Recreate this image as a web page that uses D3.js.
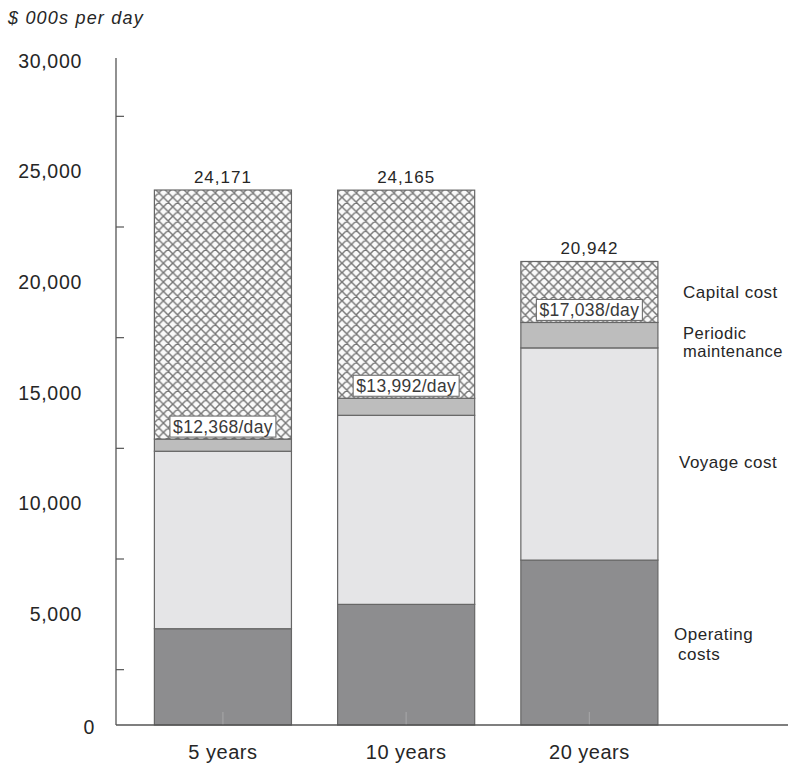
<!DOCTYPE html>
<html><head><meta charset="utf-8">
<script src="https://cdn.jsdelivr.net/npm/d3@7"></script>
<style>
html,body{margin:0;padding:0;background:#fff;}
svg{display:block;font-family:"Liberation Sans",Arial,Helvetica,sans-serif;}
</style></head>
<body><svg id="c" width="788" height="769"></svg>
<script>
const categories = ["5 years", "10 years", "20 years"];
const operating  = [4350, 5450, 7450];
const voyage     = [8018, 8542, 9588];
const periodic   = [550, 770, 1150];
const capital    = [11253, 9403, 2754];
const totalLabels = ["24,171", "24,165", "20,942"];
const dayLabels   = ["$12,368/day", "$13,992/day", "$17,038/day"];
const yTickValues = [0, 5000, 10000, 15000, 20000, 25000, 30000];
const yMinorTicks = [2500, 7500, 12500, 17500, 22500, 27500];
const seriesKeys  = ["operating", "voyage", "periodic", "capital"];
const legendLines = [["Operating", "costs"], ["Voyage cost"], ["Periodic", "maintenance"], ["Capital cost"]];
const yAxisTitle = "$ 000s per day";

const svg = d3.select("#c");
const defs = svg.append("defs");
const P = 9.4;
const pat = defs.append("pattern").attr("id","hatch").attr("patternUnits","userSpaceOnUse")
  .attr("width",P).attr("height",P).attr("x",154).attr("y",0);
pat.append("rect").attr("width",P).attr("height",P).attr("fill","#fafafa");
pat.append("path").attr("d",`M0,0L${P},${P}M0,${P}L${P},0M-1,1L1,-1M${P-1},${P+1}L${P+1},${P-1}M-1,${P-1}L1,${P+1}M${P-1},-1L${P+1},1`)
  .attr("stroke","#767676").attr("stroke-width",1.45);

const fills = {operating:"#8d8d8f", voyage:"#e5e5e7", periodic:"#bdbdbd", capital:"url(#hatch)"};

const x = d3.scaleBand().domain(categories).range([131.3, 681]).paddingInner(0.252).paddingOuter(0.126);
const y = d3.scaleLinear().domain([0, 30000]).range([725, 61]);

const rows = categories.map((c,i)=>({cat:c, operating:operating[i], voyage:voyage[i], periodic:periodic[i], capital:capital[i]}));
const stack = d3.stack().keys(seriesKeys)(rows);

// bars
const g = svg.append("g");
stack.forEach(layer=>{
  g.selectAll(null).data(layer).join("rect")
    .attr("x", d=>x(d.data.cat))
    .attr("y", d=>y(d[1]))
    .attr("width", x.bandwidth())
    .attr("height", d=>y(d[0])-y(d[1]))
    .attr("fill", fills[layer.key])
    .attr("stroke","#666").attr("stroke-width",1.2);
});

// x center ticks (inside bars)
svg.append("g").selectAll("line").data(categories).join("line")
  .attr("x1", d=>x(d)+x.bandwidth()/2).attr("x2", d=>x(d)+x.bandwidth()/2)
  .attr("y1", y(0)).attr("y2", y(0)-13)
  .attr("stroke","#a3a3a5").attr("stroke-width",1.2);

const txt = "#262626";
// day label boxes
const boxH = 21, boxW = 106;
categories.forEach((c,i)=>{
  const cx = x(c)+x.bandwidth()/2;
  const bottom = y(operating[i]+voyage[i]+periodic[i]) - 2;
  svg.append("rect").attr("x", cx-boxW/2).attr("y", bottom-boxH).attr("width", boxW).attr("height", boxH)
    .attr("fill","#fff").attr("stroke","#6f6f6f").attr("stroke-width",1.1);
  svg.append("text").attr("x", cx).attr("y", bottom-4.5).attr("text-anchor","middle")
    .attr("font-size",17.5).attr("letter-spacing",0.3).attr("fill","#3a3a3a").text(dayLabels[i]);
  svg.append("text").attr("x", cx).attr("y", y(operating[i]+voyage[i]+periodic[i]+capital[i]) - 7)
    .attr("text-anchor","middle").attr("font-size",17).attr("letter-spacing",1).attr("fill",txt)
    .text(totalLabels[i]);
});

// axes
const axisColor = "#555";
svg.append("line").attr("x1",116).attr("x2",116).attr("y1",58).attr("y2",y(0)).attr("stroke",axisColor).attr("stroke-width",1.3);
svg.append("line").attr("x1",116).attr("x2",788).attr("y1",y(0)).attr("y2",y(0)).attr("stroke",axisColor).attr("stroke-width",1.3);
svg.append("g").selectAll("line").data(yMinorTicks).join("line")
  .attr("x1",116).attr("x2",124).attr("y1",d=>y(d)).attr("y2",d=>y(d)).attr("stroke",axisColor).attr("stroke-width",1.2);
svg.append("g").selectAll("text").data(yTickValues).join("text")
  .attr("x", d=> d===0 ? 95 : 82).attr("y", d=>y(d)+(d===0?9:6.5)).attr("text-anchor","end")
  .attr("font-size",19.5).attr("letter-spacing",0.7).attr("fill",txt)
  .text(d=>d3.format(",")(d));

// x labels
svg.append("g").selectAll("text").data(categories).join("text")
  .attr("x", d=>x(d)+x.bandwidth()/2).attr("y", 759).attr("text-anchor","middle")
  .attr("font-size",20).attr("letter-spacing",0.5).attr("fill",txt).text(d=>d);

// y title
svg.append("text").attr("x",8).attr("y",24).attr("font-size",18).attr("font-style","italic")
  .attr("letter-spacing",1.2).attr("fill",txt).text(yAxisTitle);

// series labels on right
const legendPos = [{x:674, y:640, dy:20, fs:17}, {x:679, y:468, dy:0, fs:17}, {x:683, y:339, dy:18, fs:16.5}, {x:683, y:298, dy:0, fs:17}];
legendLines.forEach((lines,i)=>{
  const p = legendPos[i];
  const t = svg.append("text").attr("x", p.x).attr("y", p.y)
    .attr("font-size",p.fs).attr("letter-spacing",0.5).attr("fill",txt);
  lines.forEach((ln,j)=>{
    t.append("tspan").attr("x", p.x + (i===0 && j===1 ? 4 : 0)).attr("dy", j===0?0:p.dy).text(ln);
  });
});
</script></body></html>
